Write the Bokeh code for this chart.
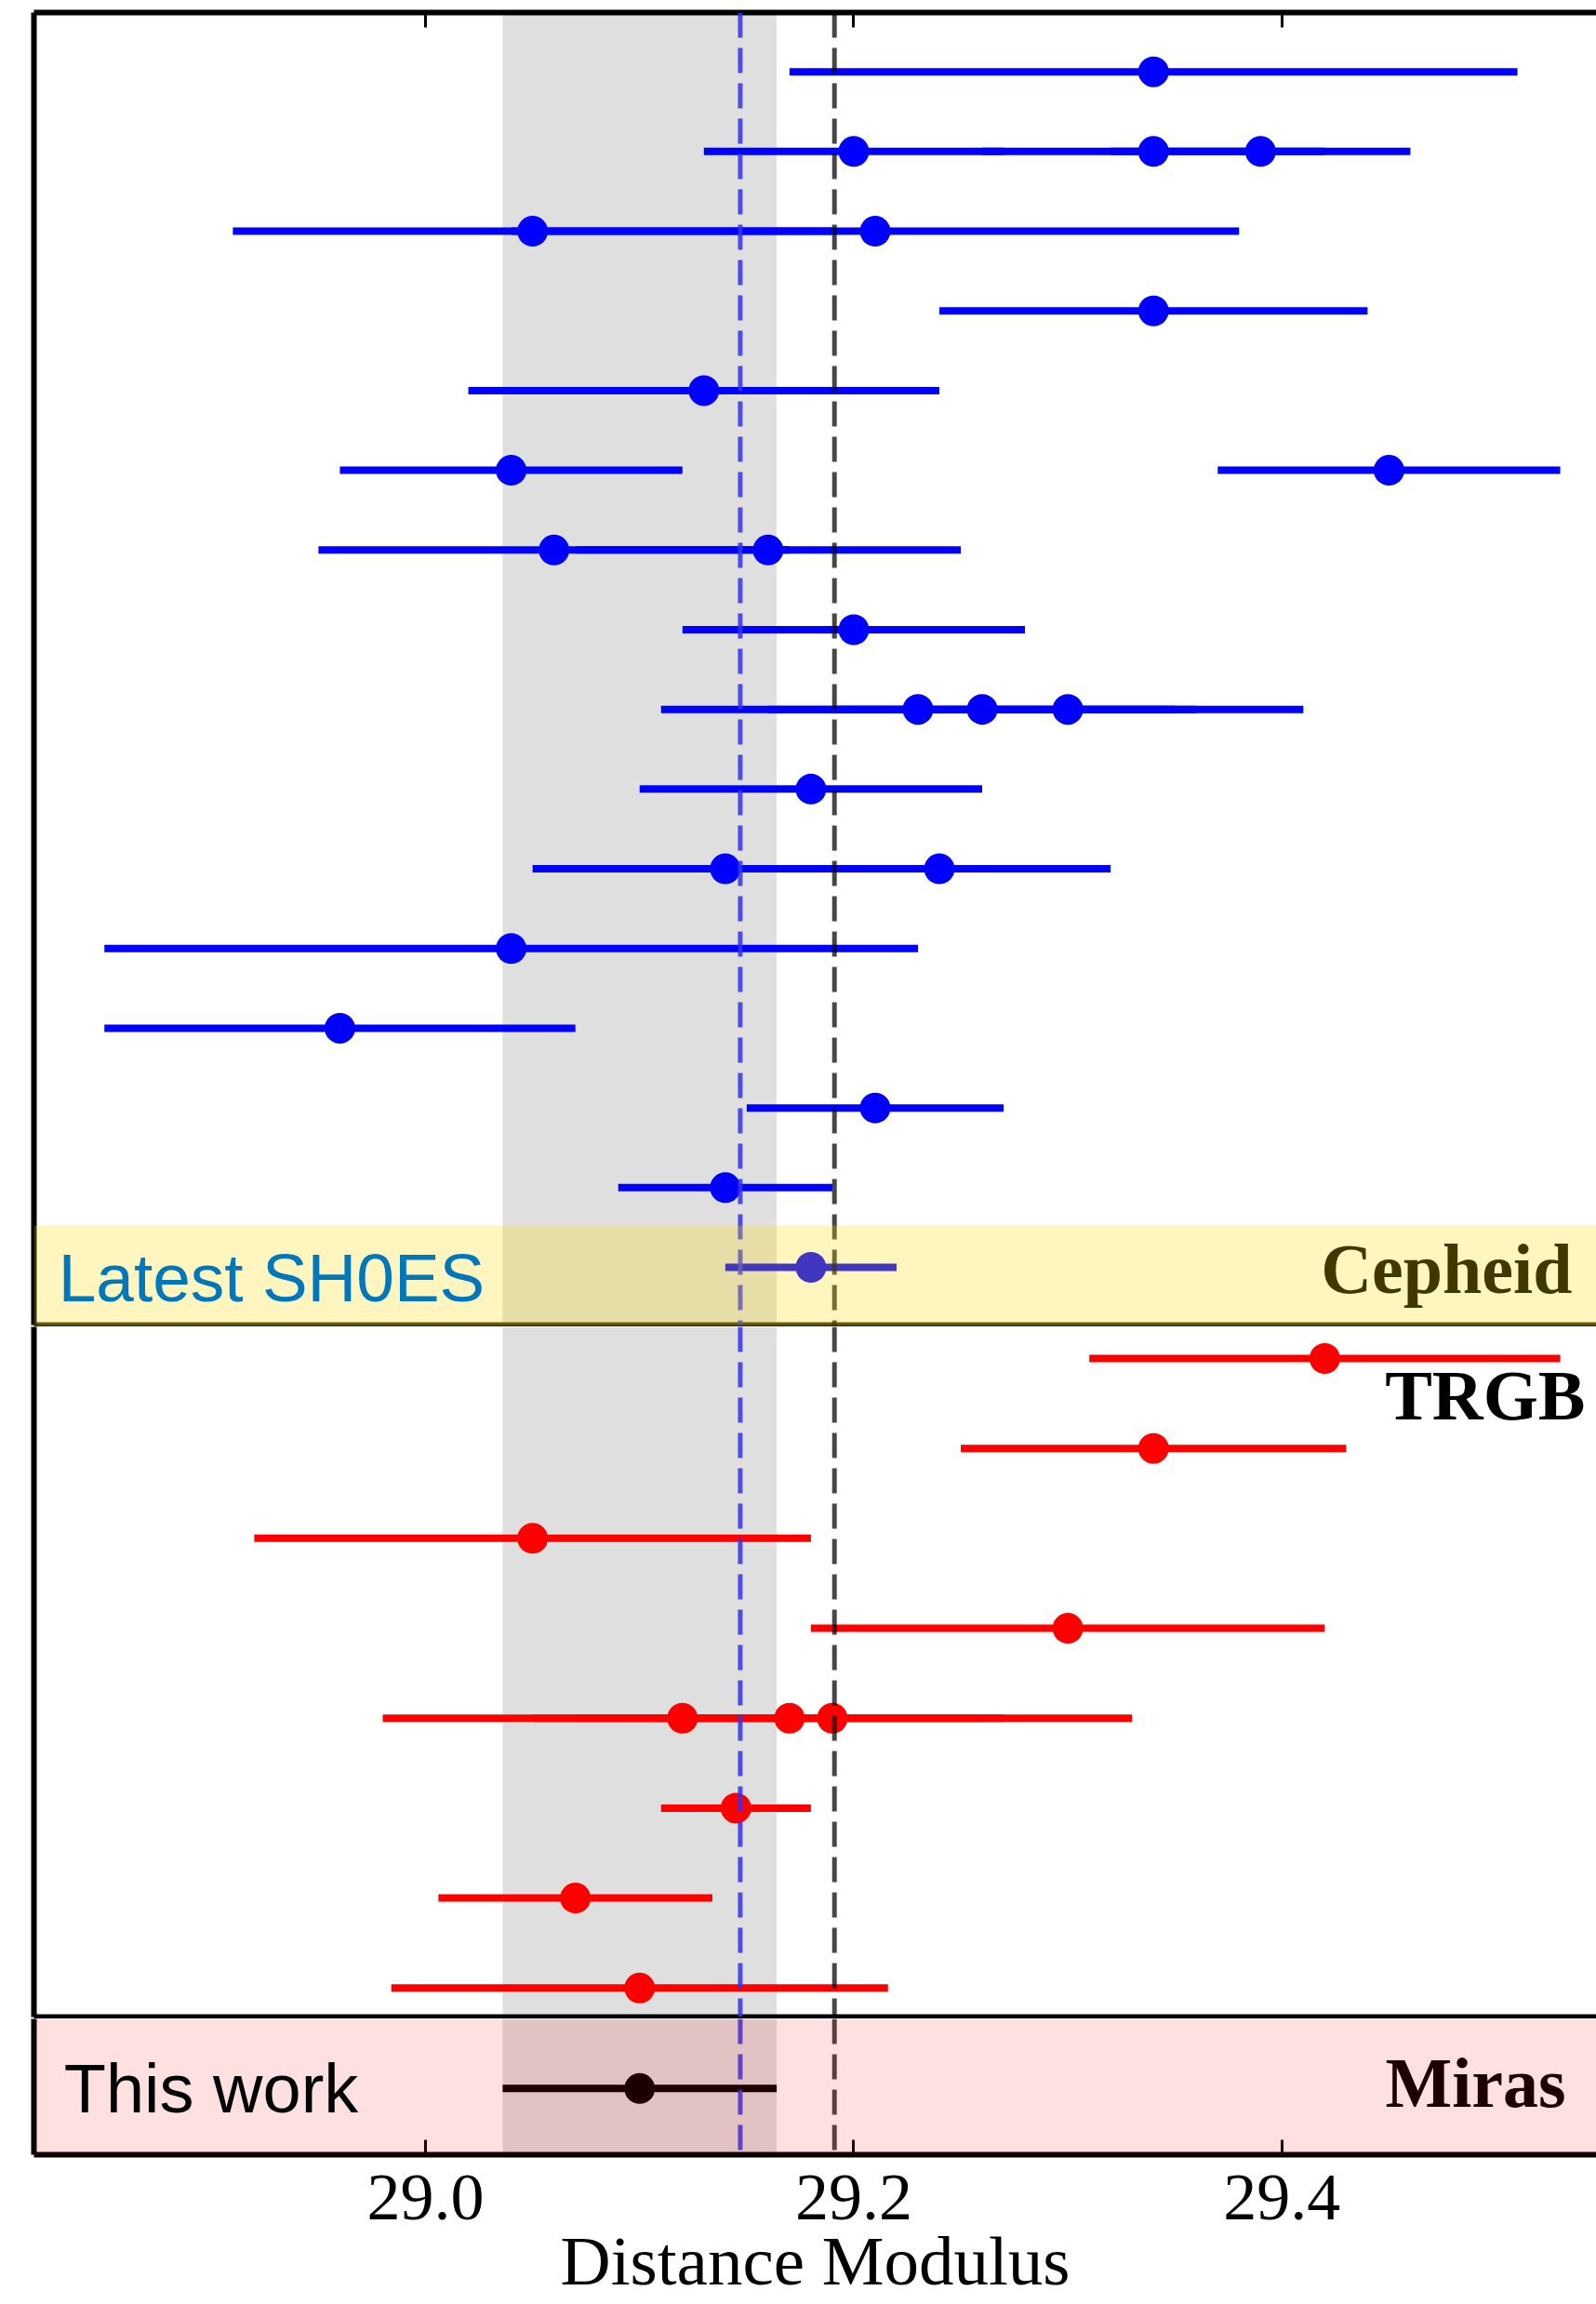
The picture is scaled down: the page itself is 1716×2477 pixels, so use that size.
import numpy as np
from bokeh.plotting import figure
from bokeh.layouts import column
from bokeh.models import (Range1d, LinearAxis, FixedTicker, BoxAnnotation, Span,
                          Label, ColumnDataSource, PrintfTickFormatter)
from bokeh.embed import file_html
from bokeh.resources import INLINE

# ---------------- data ----------------
# Cepheid measurements: row index (0 = top row), distance modulus, 1-sigma error
cep_row = [0, 1, 1, 1, 2, 2, 3, 4, 5, 5, 6, 6, 7, 8, 8, 8, 9, 10, 10, 11, 12, 13, 14]
cep_mu = [29.34, 29.20, 29.34, 29.39, 29.05, 29.21, 29.34, 29.13, 29.04, 29.45,
          29.06, 29.16, 29.20, 29.23, 29.26, 29.30, 29.18, 29.14, 29.24, 29.04,
          28.96, 29.21, 29.14]
cep_err = [0.17, 0.07, 0.08, 0.07, 0.14, 0.17, 0.10, 0.11, 0.08, 0.08,
           0.11, 0.09, 0.08, 0.12, 0.10, 0.11, 0.08, 0.09, 0.08, 0.19,
           0.11, 0.06, 0.05]
# Latest SH0ES (row 15 of the Cepheid panel)
shoes_row = [15]
shoes_mu = [29.18]
shoes_err = [0.04]
# TRGB measurements
trgb_row = [0, 1, 2, 3, 4, 4, 4, 5, 6, 7]
trgb_mu = [29.42, 29.34, 29.05, 29.30, 29.12, 29.17, 29.19, 29.145, 29.07, 29.10]
trgb_err = [0.11, 0.09, 0.13, 0.12, 0.14, 0.10, 0.14, 0.035, 0.064, 0.116]
# Miras: this work
mira_mu = [29.10]
mira_err = [0.064]
# reference lines
ref_blue = 29.147
ref_black = 29.191
xticks = [29.0, 29.2, 29.4]

# ---------------- layout constants ----------------
X_RANGE = (28.8171, 29.5469)
FRAME_W = 1680
LEFT = 36
SERIF = "Liberation Serif"
SANS = "Liberation Sans"
SPINE = 6


def make_fig(y_range, frame_h, top, bottom):
    p = figure(x_range=Range1d(*X_RANGE), y_range=Range1d(*y_range),
               frame_width=FRAME_W, frame_height=frame_h,
               min_border_left=LEFT, min_border_right=0,
               min_border_top=top, min_border_bottom=bottom,
               x_axis_location=None, y_axis_location=None,
               toolbar_location=None, output_backend="svg",
               outline_line_color=None, background_fill_color="white",
               border_fill_color="white")
    p.xgrid.visible = False
    p.ygrid.visible = False
    left = LinearAxis(ticker=FixedTicker(ticks=[], minor_ticks=[]),
                      axis_line_width=SPINE, axis_line_color="black",
                      major_tick_in=0, major_tick_out=0,
                      major_label_standoff=0, major_label_text_color=None)
    p.add_layout(left, "left")
    return p


def boundary_axis(color):
    return LinearAxis(ticker=FixedTicker(ticks=[], minor_ticks=[]),
                      axis_line_width=SPINE, axis_line_color=color,
                      major_tick_in=0, major_tick_out=0,
                      major_label_standoff=0, major_label_text_color=None)


def gray_band():
    return BoxAnnotation(left=mira_mu[0] - mira_err[0], right=mira_mu[0] + mira_err[0],
                         fill_color="gray", fill_alpha=0.25, line_color=None,
                         level="underlay")


def ref_lines(p):
    p.add_layout(Span(location=ref_blue, dimension="height", line_color="#3333ee",
                      line_alpha=0.85, line_width=5, line_dash="27 11"))
    p.add_layout(Span(location=ref_black, dimension="height", line_color="black",
                      line_alpha=0.72, line_width=5, line_dash="27 11"))


def errbars(p, mu, err, y, color):
    mu = np.asarray(mu, dtype=float)
    err = np.asarray(err, dtype=float)
    src = ColumnDataSource(dict(x0=mu - err, x1=mu + err, y=y, mu=mu))
    p.segment(x0="x0", x1="x1", y0="y", y1="y", source=src,
              line_color=color, line_width=8)
    p.scatter(x="mu", y="y", source=src, size=33, fill_color=color,
              line_color=color, line_width=0)


# ---------------- Cepheid panel ----------------
f1 = make_fig((-0.7235, 15.743), 1411, 13, 2)
top_ax = LinearAxis(ticker=FixedTicker(ticks=xticks, minor_ticks=[]),
                    axis_line_width=SPINE, axis_line_color="black",
                    major_tick_in=16, major_tick_out=0, major_tick_line_width=3,
                    major_label_standoff=0, major_label_text_color=None)
f1.add_layout(top_ax, "above")
f1.add_layout(boundary_axis("#403608"), "below")
f1.add_layout(gray_band())
errbars(f1, cep_mu, cep_err, [15 - r for r in cep_row], "#0000ff")
errbars(f1, shoes_mu, shoes_err, [15 - r for r in shoes_row], "#0000ff")
ref_lines(f1)
f1.add_layout(Label(x=29.5356, y=-0.02, text="Cepheid", text_align="right",
                    text_baseline="alphabetic", text_font=SERIF,
                    text_font_style="bold", text_font_size="76px",
                    text_color="black"))
f1.add_layout(BoxAnnotation(bottom=-0.7235, top=0.525, fill_color="gold",
                            fill_alpha=0.25, line_color=None))
f1.add_layout(Label(x=28.8285, y=-0.13, text="Latest SH0ES", text_align="left",
                    text_baseline="alphabetic", text_font=SANS,
                    text_font_size="73px", text_color="#0077bb"))

# ---------------- TRGB panel ----------------
f2 = make_fig((-0.3227, 7.3516), 742, 0, 2)
f2.add_layout(boundary_axis("black"), "below")
f2.add_layout(gray_band())
errbars(f2, trgb_mu, trgb_err, [7 - r for r in trgb_row], "#ff0000")
ref_lines(f2)
f2.add_layout(Label(x=29.5417, y=6.59, text="TRGB", text_align="right",
                    text_baseline="alphabetic", text_font=SERIF,
                    text_font_style="bold", text_font_size="76px",
                    text_color="black"))

# ---------------- Miras panel ----------------
f3 = make_fig((-0.975, 1.025), 146, 0, 161)
bot_ax = LinearAxis(ticker=FixedTicker(ticks=xticks, minor_ticks=[]),
                    formatter=PrintfTickFormatter(format="%.1f"),
                    axis_line_width=SPINE, axis_line_color="black",
                    major_tick_in=16, major_tick_out=0, major_tick_line_width=3,
                    major_label_standoff=22,
                    major_label_text_font=SERIF, major_label_text_font_size="72px",
                    major_label_text_color="black",
                    axis_label="Distance Modulus", axis_label_standoff=0,
                    axis_label_text_font=SERIF, axis_label_text_font_style="normal",
                    axis_label_text_font_size="75px", axis_label_text_color="black")
f3.add_layout(bot_ax, "below")
f3.add_layout(gray_band())
errbars(f3, mira_mu, mira_err, [0], "black")
ref_lines(f3)
f3.add_layout(Label(x=29.5326, y=0.09, text="Miras", text_align="right",
                    text_baseline="alphabetic", text_font=SERIF,
                    text_font_style="bold", text_font_size="76px",
                    text_color="black"))
f3.add_layout(BoxAnnotation(fill_color="red", fill_alpha=0.12, line_color=None))
f3.add_layout(Label(x=28.8311, y=0.0, text="This work", text_align="left",
                    text_baseline="alphabetic", text_font=SANS,
                    text_font_size="74px", text_color="black"))

layout = column(f1, f2, f3, spacing=0)
open("out.html", "w").write(file_html(layout, INLINE))
